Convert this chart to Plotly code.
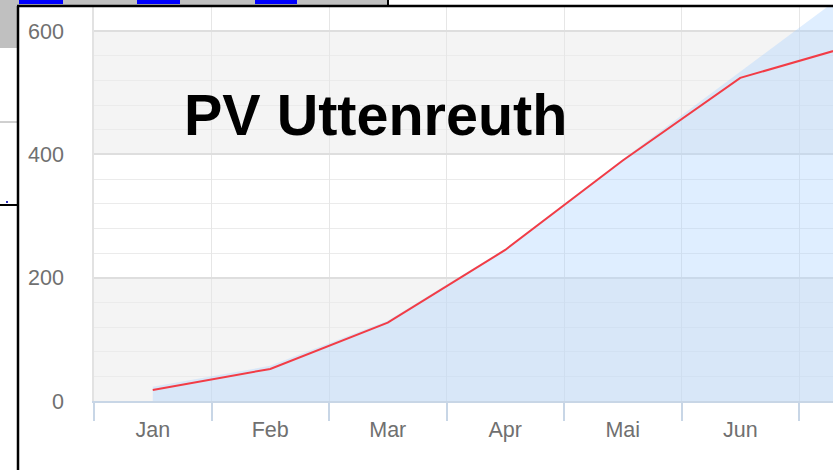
import plotly.graph_objects as go

# ---- data ----
months = ["Jan", "Feb", "Mar", "Apr", "Mai", "Jun", "Jul"]
actual = [18, 52, 127, 245, 390, 524, 579]      # red line
target = [23, 57, 130, 247, 392, 534, 676]      # blue area
y_ticks = [0, 200, 400, 600]
title_text = "PV Uttenreuth"

# ---- geometry helpers (pixel -> paper) ----
W, H = 833, 470
L, R, T, B = 94, 0, 7, 69
PW, PH = W - L - R, H - T - B


def xp(px):
    return (px - L) / PW


def yp(py):
    return (H - B - py) / PH


fig = go.Figure()

fig.add_trace(go.Scatter(
    x=months, y=target, mode="lines", fill="tozeroy",
    line=dict(width=0, color="rgba(166,208,255,0.36)"),
    fillcolor="rgba(166,208,255,0.36)", hoverinfo="skip", showlegend=False,
))
fig.add_trace(go.Scatter(
    x=months, y=actual, mode="lines",
    line=dict(width=2, color="rgb(242,60,70)"), showlegend=False,
))

shapes = []
# alternating background bands
for y0, y1, col in [(0, 200, "#f4f4f4"), (200, 400, "#ffffff"),
                    (400, 600, "#f4f4f4"), (600, 800, "#ffffff")]:
    shapes.append(dict(type="rect", xref="paper", yref="y", x0=0, x1=1,
                       y0=y0, y1=y1, fillcolor=col, line=dict(width=0),
                       layer="below"))


def rect(px0, py0, px1, py1, col):
    shapes.append(dict(type="rect", xref="paper", yref="paper",
                       x0=xp(px0), x1=xp(px1), y0=yp(py1), y1=yp(py0),
                       fillcolor=col, line=dict(width=0), layer="above"))


def line(px0, py0, px1, py1, col, w):
    shapes.append(dict(type="line", xref="paper", yref="paper",
                       x0=xp(px0), x1=xp(px1), y0=yp(py0), y1=yp(py1),
                       line=dict(color=col, width=w), layer="above"))


# surrounding window decoration
rect(0, 0, 388, 5, "#c0c0c0")
rect(0, 0, 17, 48, "#c0c0c0")
for a, b in [(19, 63), (137, 180), (255, 297)]:
    rect(a, 0, b, 4, "#0000ff")
line(388, 0, 388, 6, "#000000", 2)
line(0, 122, 17, 122, "#a0a0a0", 1)
line(0, 205, 17, 205, "#000000", 2)
rect(6, 201, 8, 203, "#3030c0")
line(18, 6, 18, 470, "#000000", 2.5)
line(17, 6, 833, 6, "#000000", 2.5)

fig.add_annotation(
    text="<b>" + title_text + "</b>", xref="paper", yref="paper",
    x=xp(375), y=yp(114.5), xanchor="center", yanchor="middle",
    showarrow=False, font=dict(family="Liberation Sans, Arial", size=57.5,
                               color="#000000"),
)

fig.update_layout(
    width=W, height=H, margin=dict(l=L, r=R, t=T, b=B, pad=0),
    paper_bgcolor="#ffffff", plot_bgcolor="#ffffff",
    shapes=shapes, showlegend=False,
    font=dict(family="Liberation Sans, Arial", size=21.5, color="#707070"),
)
fig.update_xaxes(
    type="category", categoryorder="array", categoryarray=months,
    range=[-0.5, PW / 117.5 - 0.5], tickson="boundaries",
    ticks="outside", ticklen=18, tickwidth=1.5, tickcolor="#c8d6e6",
    ticklabelstandoff=8,
    showgrid=True, gridcolor="#e6e6e6", gridwidth=1,
    showline=True, linecolor="#c8d6e6", linewidth=2,
    zeroline=False, fixedrange=True,
)
fig.update_yaxes(
    range=[0, 639], tickvals=y_ticks, ticks="outside", ticklen=24,
    tickcolor="rgba(0,0,0,0)", showgrid=True, gridcolor="#dedede",
    gridwidth=1.5, minor=dict(dtick=40, showgrid=True, gridcolor="#ebebeb",
                              gridwidth=1),
    showline=True, linecolor="#e2e2e2", linewidth=1.5,
    zeroline=False, fixedrange=True,
)

fig.write_html("out.html", config={"displayModeBar": False},
               post_script="document.body.style.margin='0';")
